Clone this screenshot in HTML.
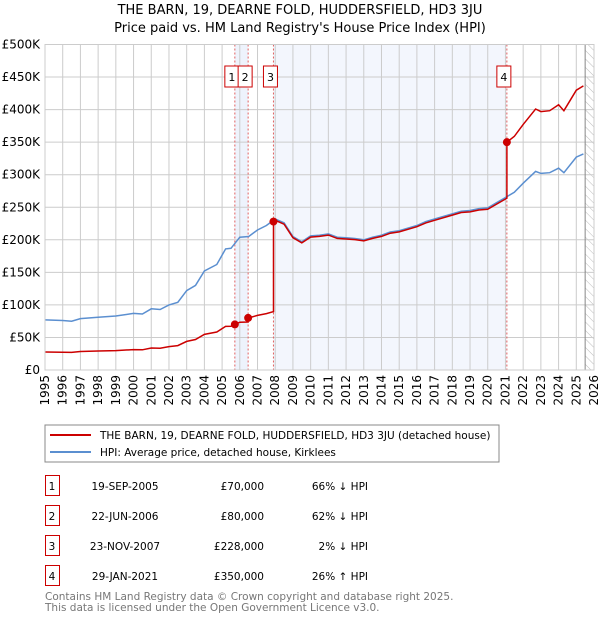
<!DOCTYPE html>
<html><head><meta charset="utf-8"><style>
body{margin:0;background:#fff;font-family:"DejaVu Sans","Liberation Sans",sans-serif;}
svg text{font-family:"DejaVu Sans","Liberation Sans",sans-serif;}
</style></head><body>
<svg id="c" width="600" height="620" xmlns="http://www.w3.org/2000/svg">
<defs><pattern id="hatch" width="6" height="6" patternUnits="userSpaceOnUse" patternTransform="rotate(-45)"><line x1="0" y1="0" x2="0" y2="6" stroke="#bbb" stroke-width="1"/></pattern></defs>
<text x="300" y="14" text-anchor="middle" font-size="13">THE BARN, 19, DEARNE FOLD, HUDDERSFIELD, HD3 3JU</text>
<text x="300" y="32" text-anchor="middle" font-size="13">Price paid vs. HM Land Registry's House Price Index (HPI)</text>
<g id="plot"></g>
<rect x="45" y="425" width="454" height="37" fill="#fff" stroke="#888"/>
<line x1="50" y1="435" x2="91" y2="435" stroke="#cc0000" stroke-width="2"/>
<text x="100" y="439" font-size="10.5">THE BARN, 19, DEARNE FOLD, HUDDERSFIELD, HD3 3JU (detached house)</text>
<line x1="50" y1="452" x2="91" y2="452" stroke="#5b8fd0" stroke-width="2"/>
<text x="100" y="456" font-size="10.5">HPI: Average price, detached house, Kirklees</text>
<g id="table" font-size="10.5"></g>
<text x="45" y="600" font-size="10.5" fill="#777">Contains HM Land Registry data © Crown copyright and database right 2025.</text>
<text x="45" y="611" font-size="10.5" fill="#777">This data is licensed under the Open Government Licence v3.0.</text>
</svg>
<script>
const hpiYears=[1995,1996,1996.5,1997,1998,1999,2000,2000.5,2001,2001.5,2002,2002.5,2003,2003.5,2004,2004.7,2005.2,2005.5,2006,2006.5,2007,2007.5,2008,2008.5,2009,2009.5,2010,2010.5,2011,2011.5,2012,2012.5,2013,2013.5,2014,2014.5,2015,2016,2016.5,2017,2018,2018.5,2019,2019.5,2020,2020.5,2021,2021.5,2022,2022.7,2023,2023.5,2024,2024.3,2025,2025.4];
const hpiValues=[77,76,75,79,81,83,87,86,94,93,100,104,122,130,152,162,186,187,204,205,215,222,232,226,205,197,206,207,209,204,203,202,200,204,207,212,214,222,228,232,240,244,245,248,249,257,265,273,287,305,302,303,310,303,327,332];
const saleYears=[2005.72,2006.47,2007.9,2021.08];
const salePrices=[70,80,228,350];
const saleLabels=["1","2","3","4"];
const saleDates=["19-SEP-2005","22-JUN-2006","23-NOV-2007","29-JAN-2021"];
const salePriceText=["£70,000","£80,000","£228,000","£350,000"];
const saleDiff=["66% ↓ HPI","62% ↓ HPI","2% ↓ HPI","26% ↑ HPI"];
const yTicks=[0,50,100,150,200,250,300,350,400,450,500];
const yTickLabels=["£0","£50K","£100K","£150K","£200K","£250K","£300K","£350K","£400K","£450K","£500K"];
const xTicks=[1995,1996,1997,1998,1999,2000,2001,2002,2003,2004,2005,2006,2007,2008,2009,2010,2011,2012,2013,2014,2015,2016,2017,2018,2019,2020,2021,2022,2023,2024,2025,2026];

const NS="http://www.w3.org/2000/svg";
const X0=45,X1=594,Y0=370,Y1=44.5;
const x=y=>X0+(y-1995)/(2026-1995)*(X1-X0);
const yv=v=>Y0-v/500*(Y0-Y1);
const g=document.getElementById('plot');
function mk(tag,attrs,parent){const e=document.createElementNS(NS,tag);for(const k in attrs)e.setAttribute(k,attrs[k]);(parent||g).appendChild(e);return e;}
function hpiAt(t){if(t<=hpiYears[0])return hpiValues[0];for(let i=1;i<hpiYears.length;i++){if(t<=hpiYears[i]){const f=(t-hpiYears[i-1])/(hpiYears[i]-hpiYears[i-1]);return hpiValues[i-1]+f*(hpiValues[i]-hpiValues[i-1]);}}return hpiValues[hpiValues.length-1];}

let r=mk('rect',{x:x(saleYears[0]),y:Y1,width:x(saleYears[1])-x(saleYears[0]),height:Y0-Y1,fill:'#eef3fc'});


r=mk('rect',{x:x(saleYears[2]),y:Y1,width:x(saleYears[3])-x(saleYears[2]),height:Y0-Y1,fill:'#f3f6fd'});


r=mk('rect',{x:x(2025.5),y:Y1,width:X1-x(2025.5),height:Y0-Y1,fill:'url(#hatch)'});


yTicks.forEach((v,i)=>{
  const l=mk('line',{x1:X0,x2:X1,y1:yv(v),y2:yv(v),stroke:'#ccc','stroke-width':1});
  
  
  const t=mk('text',{x:40,y:yv(v)+4,'text-anchor':'end','font-size':12});
  t.textContent=yTickLabels[i];
  
  
});
xTicks.forEach(yr=>{
  const l=mk('line',{x1:x(yr),x2:x(yr),y1:Y1,y2:Y0,stroke:'#ccc','stroke-width':1});
  
  
  const t=mk('text',{x:0,y:0,'text-anchor':'end','font-size':12,transform:`translate(${x(yr)+4},375) rotate(-90)`});
  t.textContent=yr;
  
  
});
let l=mk('line',{x1:x(2025.5),x2:x(2025.5),y1:Y1,y2:Y0,stroke:'#888'});


saleYears.forEach((s,i)=>{
  const d=mk('line',{x1:x(s),x2:x(s),y1:Y1,y2:Y0,stroke:'#e06060','stroke-dasharray':'2,2','stroke-width':1});
  
  
  const bx=x(s)-10;
  const b=mk('rect',{x:bx,y:66,width:14,height:21,fill:'#fff',stroke:'#cc0000'});
  
  
  const t=mk('text',{x:bx+7,y:81,'text-anchor':'middle','font-size':11});
  t.textContent=saleLabels[i];
  
  
});
const hp=hpiYears.map((t,i)=>x(t).toFixed(1)+','+yv(hpiValues[i]).toFixed(1)).join(' ');
const hl=mk('polyline',{points:hp,fill:'none',stroke:'#5b8fd0','stroke-width':1.5});


const pts=[];
function pushSeg(t0,t1,idx){
  const ratio=salePrices[idx]/hpiAt(saleYears[idx]);
  const ts=[t0].concat(hpiYears.filter(t=>t>t0&&t<t1),[t1]);
  ts.forEach(t=>pts.push(x(t).toFixed(1)+','+yv(hpiAt(t)*ratio).toFixed(1)));
}
pushSeg(1995,saleYears[0],0);
for(let i=0;i<saleYears.length;i++){pushSeg(saleYears[i],i<saleYears.length-1?saleYears[i+1]:2025.4,i);}
const pl=mk('polyline',{points:pts.join(' '),fill:'none',stroke:'#cc0000','stroke-width':1.5});


saleYears.forEach((s,i)=>{
  const c=mk('circle',{cx:x(s),cy:yv(salePrices[i]),r:4,fill:'#cc0000'});
  
  
});
const bl=mk('rect',{x:X0,y:Y1,width:X1-X0,height:Y0-Y1,fill:'none',stroke:'#ccc'});


const tb=document.getElementById('table');
saleYears.forEach((s,i)=>{
  const yy=476+i*30;
  const b=mk('rect',{x:45.5,y:yy-0.5,width:14,height:20,fill:'#fff',stroke:'#cc0000'},tb);
  
  
  const cells=[[52,saleLabels[i],'middle'],[125,saleDates[i],'middle'],[264,salePriceText[i],'end'],[368,saleDiff[i],'end']];
  cells.forEach(c=>{
    const t=mk('text',{x:c[0],y:yy+14,'text-anchor':c[2],'font-size':10.5},tb);
    t.textContent=c[1];
    
    
  });
});
</script>
</body></html>
